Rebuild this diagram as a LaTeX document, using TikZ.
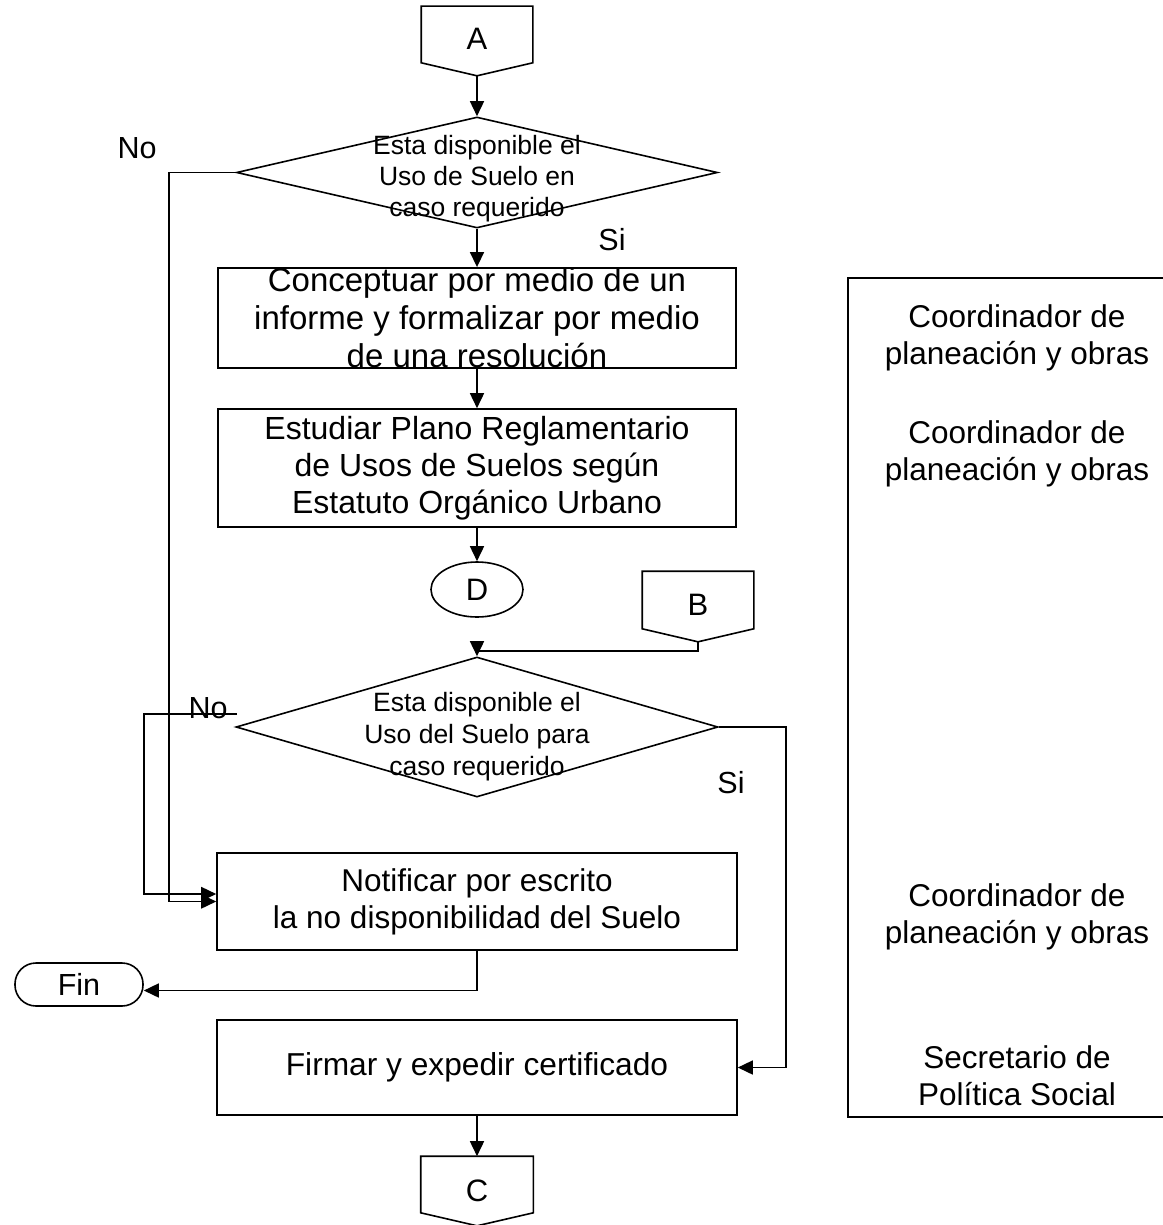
\documentclass[tikz,border=0pt]{standalone}
\usepackage{fontspec}
\setmainfont{Liberation Sans}
\usetikzlibrary{arrows.meta,shapes.geometric,calc}
\begin{document}
\begin{tikzpicture}[x=1pt,y=-1pt,line width=1.6pt,
  >={Triangle[length=15pt,width=14pt]},
  proc/.style={draw,inner sep=0pt,align=center,font=\fontsize{32}{37}\selectfont},
  dia/.style={draw,diamond,inner sep=0pt},
  diatext/.style={align=center,inner sep=0pt},
  conn/.style={minimum width=110pt,minimum height=68pt,inner sep=0pt,font=\fontsize{31}{36}\selectfont},
  lbl/.style={inner sep=0pt,font=\fontsize{30.5}{36}\selectfont},
  role/.style={align=center,inner sep=0pt,font=\fontsize{31.5}{37}\selectfont}]
\useasboundingbox (0,0) rectangle (1162,1225);

% off-page connector A
\node[conn] (A) at (477,41) {\raisebox{4pt}{A}};
\draw (A.north west) -- (A.north east) -- ([yshift=13pt]A.south east) -- (A.south) -- ([yshift=13pt]A.south west) -- cycle;

% decision 1
\node[dia,minimum width=481pt,minimum height=111pt] (d1) at (477,172.5) {};
\node[diatext,font=\fontsize{26.5}{31}\selectfont] (t1) at (477,179) {Esta disponible el\\Uso de Suelo en\\caso requerido};
\node[lbl] (no1) at (137,148) {No};
\node[lbl] (si1) at (612,240) {Si};

% process boxes
\node[proc,minimum width=518pt,minimum height=98pt,font=\fontsize{33}{38}\selectfont] (c1) at (477,318) {Conceptuar por medio de un\\informe y formalizar por medio\\de una resolución};
\node[proc,minimum width=518pt,minimum height=118pt] (c2) at (477,468) {Estudiar Plano Reglamentario\\de Usos de Suelos según\\Estatuto Orgánico Urbano};

% connector D
\node[draw,ellipse,minimum width=92pt,minimum height=55pt,inner sep=0pt,font=\fontsize{31}{36}\selectfont] (D) at (477,589.5) {D};

% off-page connector B
\node[conn,minimum height=69pt] (B) at (698,606.5) {\raisebox{3pt}{B}};
\draw (B.north west) -- (B.north east) -- ([yshift=13pt]B.south east) -- (B.south) -- ([yshift=13pt]B.south west) -- cycle;

% decision 2
\node[dia,minimum width=482pt,minimum height=140pt] (d2) at (477,727) {};
\node[diatext,font=\fontsize{26.5}{32}\selectfont] (t2) at (477,737) {Esta disponible el\\Uso del Suelo para\\caso requerido};
\node[lbl] (no2) at (208,708) {No};
\node[lbl] (si2) at (731,783) {Si};
\coordinate (no2start) at (237,714);

% notify, end, sign
\node[proc,minimum width=520pt,minimum height=97pt,font=\fontsize{31.5}{37}\selectfont] (notif) at (477,901.5) {Notificar por escrito\\la no disponibilidad del Suelo};
\node[draw,rounded corners=21pt,minimum width=128pt,minimum height=43pt,inner sep=0pt,font=\fontsize{30.5}{36}\selectfont] (fin) at (79,984.5) {Fin};
\node[proc,minimum width=520pt,minimum height=95pt,font=\fontsize{31.7}{37}\selectfont] (firmar) at (477,1067.5) {Firmar y expedir certificado};

% off-page connector C
\node[conn,minimum width=111pt] (C) at (477,1191) {C};
\draw (C.north west) -- (C.north east) -- ([yshift=13pt]C.south east) -- (C.south) -- ([yshift=13pt]C.south west) -- cycle;

% responsibility panel
\node[draw,anchor=north west,minimum width=330pt,minimum height=839pt,inner sep=0pt] (panel) at (847,277) {};
\node[role] (r1) at (1017,338) {Coordinador de\\planeación y obras};
\node[role] (r2) at (1017,454) {Coordinador de\\planeación y obras};
\node[role] (r3) at (1017,917) {Coordinador de\\planeación y obras};
\node[role] (r4) at (1017,1076) {Secretario de\\Política Social};

% connectors
\draw[->] (A.south) -- (d1.north);
\draw[->] (d1.south) -- (c1.north);
\draw[->] (c1.south) -- (c2.north);
\draw[->] (c2.south) -- (D.north);
\draw[->] (d1.west) -- ++(-67,0) |- (notif.west);
\draw[->] (B.south) -- ++(0,9) -| (d2.north);
\draw[->] (no2start) -- ++(-93,0) |- ([yshift=7.5pt]notif.west);
\draw[->] (d2.east) -- ++(67,0) |- (firmar.east);
\draw[->] (notif.south) |- ([yshift=-6pt]fin.east);
\draw[->] (firmar.south) -- (C.north);
\end{tikzpicture}
\end{document}
